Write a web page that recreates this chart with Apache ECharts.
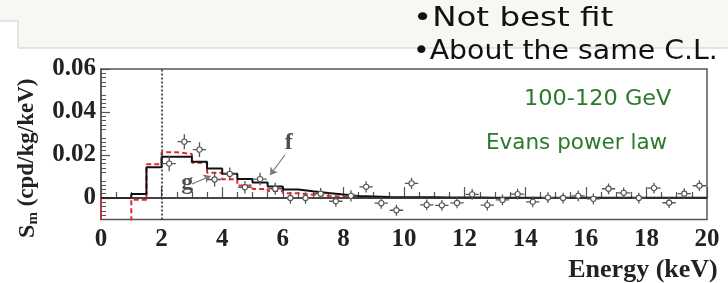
<!DOCTYPE html>
<html>
<head>
<meta charset="utf-8">
<script src="https://cdn.jsdelivr.net/npm/echarts@6/dist/echarts.min.js"></script>
<style>html,body{margin:0;padding:0;background:#fff;}#c{width:728px;height:283px;}</style>
</head>
<body>
<div id="c"></div>
<script>
// ---- data ----
const xTickValues = [0, 2, 4, 6, 8, 10, 12, 14, 16, 18, 20];
const yTickValues = [0, 0.02, 0.04, 0.06];
const binStart = [0,0.5,1,1.5,2,2.5,3,3.5,4,4.5,5,5.5,6,6.5,7,7.5,8,8.5,9,9.5,
                  10,10.5,11,11.5,12,12.5,13,13.5,14,14.5,15,15.5,16,16.5,17,17.5,18,18.5,19,19.5];
const binWidth = 0.5;
// model "f" (black solid histogram)
const fLevels = [0,0,0.0019,0.0143,0.0192,0.0192,0.0169,0.0137,0.0113,0.0088,
                 0.0072,0.0053,0.0040,0.0031,0.0023,0.0016,0.0009,0.0007,0.0005,0.0004,
                 0.0003,0.0003,0.0002,0.0002,0.0002,0.0001,0.0001,0.0001,0.0001,0.0001,
                 0.0001,0.0001,0.0001,0.0001,0.0001,0.0001,0.0001,0.0001,0.0001,0.0001];
// model "g" (red dashed histogram)
const gLevels = [-0.03,-0.03,-0.0008,0.0157,0.0213,0.0205,0.0164,0.0118,0.0087,0.0058,
                 0.0042,0.0032,0.0022,0.0015,0.0010,0.0006,0.0003,0.0002,0.0001,0.0001,
                 0.0001,0.0001,0,0,0,0,0,0,0,0,
                 0,0,0,0,0,0,0,0,0,0];
// measured points (S_m)
const pointEnergy = [2.25,2.75,3.25,3.75,4.25,4.75,5.25,5.75,6.25,6.75,7.25,7.75,8.25,8.75,9.25,9.75,
                     10.25,10.75,11.25,11.75,12.25,12.75,13.25,13.75,14.25,14.75,15.25,15.75,16.25,16.75,
                     17.25,17.75,18.25,18.75,19.25,19.75];
const pointValue = [0.0160,0.0262,0.0225,0.0086,0.0112,0.0050,0.0088,0.0043,0.0000,0.0000,0.0020,-0.0015,
                    0.0010,0.0052,-0.0024,-0.0057,0.0068,-0.0032,-0.0034,-0.0023,0.0017,-0.0033,-0.0009,0.0018,
                    -0.0018,0.0002,0.0000,0.0010,-0.0004,0.0043,0.0024,0.0000,0.0046,-0.0022,0.0020,0.0057];
const pointError = [0.0036,0.0035,0.0034,0.0032,0.0030,0.0029,0.0029,0.0028,0.0027,0.0027,0.0026,0.0026,
                    0.0026,0.0026,0.0026,0.0026,0.0026,0.0025,0.0025,0.0025,0.0025,0.0025,0.0025,0.0025,
                    0.0025,0.0025,0.0025,0.0025,0.0025,0.0025,0.0025,0.0025,0.0025,0.0025,0.0025,0.0025];
const fArrow = [[6.07, 0.0200], [5.58, 0.0107]];
const gArrow = [[3.00, 0.0065], [3.62, 0.0102]];
const fLabelPos = [6.2, 0.0255];
const gLabelPos = [2.85, 0.0070];

// ---- build step paths from the bins ----
function stepPath(levels) {
  const pts = [[binStart[0], 0]];
  levels.forEach((v, i) => { pts.push([binStart[i], v]); pts.push([binStart[i] + binWidth, v]); });
  return pts;
}
const pointData = pointEnergy.map((e, i) => [e, pointValue[i], pointError[i]]);

const serif = '"Liberation Serif", "DejaVu Serif", serif';
const chart = echarts.init(document.getElementById('c'), null, {renderer: 'canvas'});
chart.setOption({
  animation: false,
  backgroundColor: '#ffffff',
  graphic: [
    {type: 'polygon', shape: {points: [[0,0],[728,0],[728,48],[18,48],[18,21],[0,21]]},
     style: {fill: '#f7f7f3'}, z: -1},
    {type: 'polyline', shape: {points: [[0,21],[18,21],[18,48],[728,48]]},
     style: {stroke: '#cfcfcf', lineWidth: 1, fill: null}},
    {type: 'text', x: 413, y: 6, scaleX: 1.25, style: {text: '•Not best fit', font: '26px "DejaVu Sans", sans-serif', fill: '#111'}},
    {type: 'text', x: 413, y: 39, scaleX: 1.09, style: {text: '•About the same C.L.', font: '26px "DejaVu Sans", sans-serif', fill: '#111'}},
    {type: 'text', x: 524, y: 88, scaleX: 1.02, style: {text: '100-120 GeV', font: '22px "DejaVu Sans", sans-serif', fill: '#2b7a2b'}},
    {type: 'text', x: 486, y: 132, style: {text: 'Evans power law', font: '21.5px "DejaVu Sans", sans-serif', fill: '#2b7a2b'}}
  ],
  grid: {left: 101, right: 21, top: 69, bottom: 63.5, outerBoundsMode: 'none', containLabel: false,
         show: true, borderColor: '#555', borderWidth: 1.5, backgroundColor: 'transparent'},
  xAxis: {
    type: 'value', min: 0, max: 20, interval: 2,
    name: 'Energy (keV)', nameLocation: 'middle', nameGap: 36,
    nameTextStyle: {fontFamily: serif, fontWeight: 'bold', fontSize: 26, color: '#222',
                    padding: [0, 0, 0, 478]},
    axisLine: {show: true, lineStyle: {color: '#555', width: 1.5}},
    axisTick: {show: true, inside: true, length: 11, lineStyle: {color: '#555', width: 1.2}},
    minorTick: {show: true, splitNumber: 4, length: 6, lineStyle: {color: '#555', width: 1.2}},
    splitLine: {show: false},
    axisLabel: {customValues: xTickValues, margin: 8, fontFamily: serif, fontWeight: 'bold', fontSize: 25, color: '#222'}
  },
  yAxis: {
    type: 'value', min: -0.01, max: 0.06, interval: 0.01,
    name: '{s|S}{m|m}{t| (cpd/kg/keV)}', nameLocation: 'middle', nameRotate: 90, nameGap: 60,
    nameTextStyle: {
      padding: [0, 28, 0, 0],
      rich: {
        s: {fontFamily: serif, fontWeight: 'bold', fontSize: 24, color: '#222'},
        m: {fontFamily: serif, fontWeight: 'bold', fontSize: 15, color: '#222', padding: [12, 0, 0, 0]},
        t: {fontFamily: serif, fontWeight: 'bold', fontSize: 23, color: '#222'}
      }
    },
    axisLine: {show: true, lineStyle: {color: '#555', width: 1.5}},
    axisTick: {show: true, inside: true, length: 9, customValues: yTickValues, lineStyle: {color: '#555', width: 1.2}},
    minorTick: {show: true, splitNumber: 5, length: 5, lineStyle: {color: '#555', width: 1}},
    splitLine: {show: false},
    axisLabel: {customValues: yTickValues, margin: 5, fontFamily: serif, fontWeight: 'bold', fontSize: 25, color: '#222',
                formatter: v => (v === 0 ? '0' : v.toFixed(2))}
  },
  series: [
    {
      type: 'line', name: 'g', data: stepPath(gLevels), symbol: 'none', clip: true,
      lineStyle: {color: '#e0292f', width: 2, type: [5, 3]}, z: 3
    },
    {
      type: 'line', name: 'f', data: stepPath(fLevels), symbol: 'none', clip: true,
      lineStyle: {color: '#111', width: 2}, z: 4,
      markLine: {
        silent: true, symbol: ['none', 'none'], animation: false,
        label: {show: false},
        data: [
          {xAxis: 2, lineStyle: {color: '#222', width: 1.5, type: [2, 2]}},
          {yAxis: 0, lineStyle: {color: '#333', width: 1.5, type: 'solid'}},
          [{coord: fArrow[0], symbol: 'none', lineStyle: {color: '#777', width: 1.2, type: 'solid'}},
           {coord: fArrow[1], symbol: 'arrow', symbolSize: 7}],
          [{coord: gArrow[0], symbol: 'none', lineStyle: {color: '#777', width: 1.2, type: 'solid'}},
           {coord: gArrow[1], symbol: 'arrow', symbolSize: 7}]
        ]
      }
    },
    {
      type: 'custom', name: 'data', data: pointData, clip: true, z: 5,
      renderItem: function (params, api) {
        const x = api.value(0), y = api.value(1), e = api.value(2);
        const c = api.coord([x, y]);
        const t = api.coord([x, y + e]), b = api.coord([x, y - e]);
        const l = api.coord([x - 0.22, y]), r = api.coord([x + 0.22, y]);
        const st = {stroke: '#555', lineWidth: 1.3};
        return {type: 'group', children: [
          {type: 'line', shape: {x1: c[0], y1: t[1], x2: c[0], y2: b[1]}, style: st},
          {type: 'line', shape: {x1: l[0], y1: c[1], x2: r[0], y2: c[1]}, style: st},
          {type: 'circle', shape: {cx: c[0], cy: c[1], r: 2.6}, style: {fill: '#fff', stroke: '#555', lineWidth: 1.1}}
        ]};
      }
    },
    {
      type: 'scatter', name: 'labels', symbolSize: 0, z: 6,
      data: [
        {value: fLabelPos, label: {formatter: 'f'}},
        {value: gLabelPos, label: {formatter: 'g'}}
      ],
      label: {show: true, position: 'inside', fontFamily: serif, fontWeight: 'bold', fontSize: 24, color: '#222'}
    }
  ]
});
</script>
</body>
</html>
